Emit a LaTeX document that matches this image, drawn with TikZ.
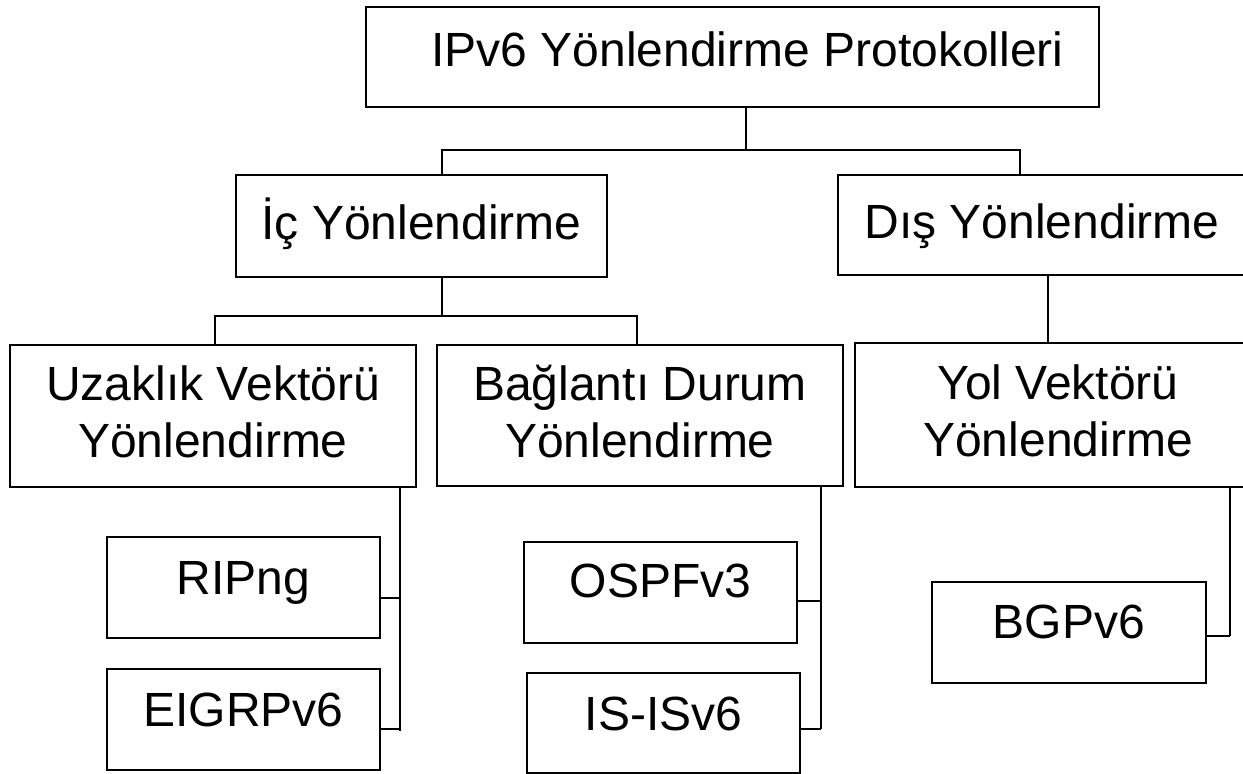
\documentclass[tikz,border=0pt]{standalone}
\usepackage{fontspec}
\setmainfont{Liberation Sans}
\usetikzlibrary{calc}
\begin{document}
\begin{tikzpicture}[x=0.5pt,y=-0.5pt,
  box/.style={draw=black, line width=1.4pt, rectangle, inner sep=0pt, fill=white,
    font=\fontsize{24}{28.5}\selectfont},
  one/.style={box, text height=17.2pt, text depth=#1},
  two/.style={box, align=center},
  conn/.style={draw=black, line width=0.85pt}]
\useasboundingbox[fill=white] (0,0) rectangle (1243,774);

% junction coordinates
\coordinate (j1) at (746,150);
\coordinate (a1) at (442,150);
\coordinate (a2) at (1020,150);
\coordinate (b0) at (442,316);
\coordinate (b1) at (215,316);
\coordinate (b2) at (637,316);
\coordinate (c0) at (1048,300);
\coordinate (u1) at (400,598);
\coordinate (u2) at (400,729);
\coordinate (u3) at (400,731);
\coordinate (m1) at (821,601);
\coordinate (m2) at (821,729);
\coordinate (r1) at (1230,636);

% boxes
\node[one=8pt, minimum width=366.5pt, minimum height=50pt] (top) at (732.5,57) {\hspace*{15pt}IPv6 Yönlendirme Protokolleri};
\node[one=4pt, minimum width=185.5pt, minimum height=51pt] (ic) at (421.5,226) {İç Yönlendirme};
\node[one=4pt, minimum width=204pt, minimum height=50pt] (dis) at (1042,225) {Dış Yönlendirme};
\node[two, minimum width=203pt, minimum height=71pt] (uz) at (213,416) {Uzaklık Vektörü\\Yönlendirme\rule[-4pt]{0pt}{4pt}};
\node[two, minimum width=203pt, minimum height=70.5pt] (bag) at (640,415.5) {Bağlantı Durum\\Yönlendirme\rule[-4pt]{0pt}{4pt}};
\node[two, minimum width=203pt, minimum height=72pt] (yol) at (1058,415) {Yol Vektörü\\Yönlendirme\rule[-4pt]{0pt}{4pt}};
\node[one=10pt, minimum width=136.5pt, minimum height=50.5pt] (rip) at (243.5,587.5) {RIPng};
\node[one=10pt, minimum width=136.5pt, minimum height=50.5pt] (eig) at (243.5,719.5) {EIGRPv6};
\node[one=12pt, minimum width=136.5pt, minimum height=50.5pt] (ospf) at (660.5,592.5) {OSPFv3};
\node[one=10pt, minimum width=136.5pt, minimum height=50pt] (isis) at (663.5,723) {IS-ISv6};
\node[one=11pt, minimum width=137pt, minimum height=50.5pt] (bgp) at (1069,632.5) {BGPv6};

% connectors
\draw[conn] (top.south -| j1) -- (j1);
\draw[conn] (ic.north -| a1) -- (a1) -- (a2) -- (dis.north -| a2);
\draw[conn] (ic.south -| b0) -- (b0);
\draw[conn] (uz.north -| b1) -- (b1) -- (b2) -- (bag.north -| b2);
\draw[conn] (dis.south -| c0) -- (yol.north -| c0);
\draw[conn] (uz.south -| u1) -- (u3);
\draw[conn] (rip.east |- u1) -- (u1);
\draw[conn] (eig.east |- u2) -- (u2);
\draw[conn] (bag.south -| m1) -- (m2);
\draw[conn] (ospf.east |- m1) -- (m1);
\draw[conn] (isis.east |- m2) -- (m2);
\draw[conn] (yol.south -| r1) -- (r1);
\draw[conn] (bgp.east |- r1) -- (r1);
\end{tikzpicture}
\end{document}
